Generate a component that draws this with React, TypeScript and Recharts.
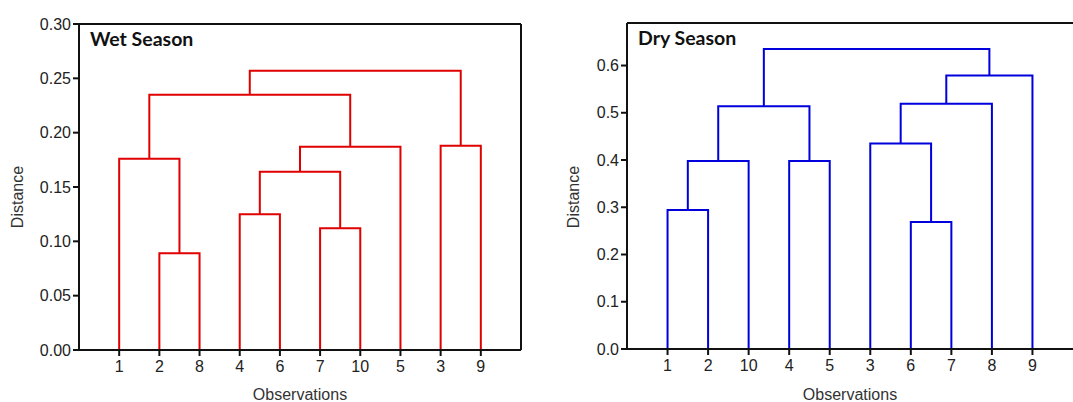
import { LineChart, Line, XAxis, YAxis, ReferenceLine } from "recharts";

// leaf order along the x axis
const wetLeaves = ["1", "2", "8", "4", "6", "7", "10", "5", "3", "9"];
const dryLeaves = ["1", "2", "10", "4", "5", "3", "6", "7", "8", "9"];

// merges in order; cluster i (1-based) is referred to as "c<i>"
const wetMerges = [
  { left: "2", right: "8", height: 0.089 },
  { left: "7", right: "10", height: 0.112 },
  { left: "4", right: "6", height: 0.125 },
  { left: "c3", right: "c2", height: 0.164 },
  { left: "1", right: "c1", height: 0.176 },
  { left: "c4", right: "5", height: 0.187 },
  { left: "3", right: "9", height: 0.188 },
  { left: "c5", right: "c6", height: 0.235 },
  { left: "c8", right: "c7", height: 0.257 },
];

const dryMerges = [
  { left: "1", right: "2", height: 0.294 },
  { left: "6", right: "7", height: 0.269 },
  { left: "c1", right: "10", height: 0.398 },
  { left: "4", right: "5", height: 0.398 },
  { left: "3", right: "c2", height: 0.435 },
  { left: "c3", right: "c4", height: 0.514 },
  { left: "c5", right: "8", height: 0.519 },
  { left: "c7", right: "9", height: 0.579 },
  { left: "c6", right: "c8", height: 0.635 },
];

const wetTicks = [0, 0.05, 0.1, 0.15, 0.2, 0.25, 0.3];
const dryTicks = [0, 0.1, 0.2, 0.3, 0.4, 0.5, 0.6];

interface Merge {
  left: string;
  right: string;
  height: number;
}

const buildLinks = (leaves: string[], merges: Merge[]) => {
  const pos: Record<string, { x: number; h: number }> = {};
  leaves.forEach((l, i) => (pos[l] = { x: i + 1, h: 0 }));
  return merges.map((m, i) => {
    const a = pos[m.left];
    const b = pos[m.right];
    pos[`c${i + 1}`] = { x: (a.x + b.x) / 2, h: m.height };
    return [
      { x: a.x, y: a.h },
      { x: a.x, y: m.height },
      { x: b.x, y: m.height },
      { x: b.x, y: b.h },
    ];
  });
};

const FONT = "'Liberation Sans', Arial, sans-serif";
const tickStyle = { fontSize: 16, fill: "#222", fontFamily: FONT };

interface DendroProps {
  title: string;
  leaves: string[];
  merges: Merge[];
  ticks: number[];
  yMax: number;
  digits: number;
  color: string;
  width: number;
  yAxisWidth: number;
  top: number;
  rightMargin: number;
  rightBorder: boolean;
  labelX: number;
}

const Dendrogram = ({
  title,
  leaves,
  merges,
  ticks,
  yMax,
  digits,
  color,
  width,
  yAxisWidth,
  top,
  rightMargin,
  rightBorder,
  labelX,
}: DendroProps) => {
  const links = buildLinks(leaves, merges);
  return (
    <div style={{ position: "relative", width, height: 402 }}>
      <LineChart
        width={width}
        height={402}
        margin={{ top, right: rightMargin, bottom: 0, left: 0 }}
      >
        <XAxis
          type="number"
          dataKey="x"
          domain={[0, 11]}
          ticks={leaves.map((_, i) => i + 1)}
          tickFormatter={(v: number) => leaves[v - 1]}
          allowDataOverflow
          height={402 - 350 + (top === 23 ? 1 : 0)}
          axisLine={{ stroke: "#111", strokeWidth: 2 }}
          tickLine={{ stroke: "#111", strokeWidth: 2 }}
          tickSize={6}
          tickMargin={5}
          tick={tickStyle}
          label={{
            value: "Observations",
            position: "insideBottom",
            offset: 2,
            style: { ...tickStyle, fill: "#333" },
          }}
        />
        <YAxis
          type="number"
          domain={[0, yMax]}
          ticks={ticks}
          allowDataOverflow
          width={yAxisWidth}
          tickFormatter={(v: number) => v.toFixed(digits)}
          axisLine={{ stroke: "#111", strokeWidth: 2 }}
          tickLine={{ stroke: "#111", strokeWidth: 2 }}
          tickSize={6}
          tick={tickStyle}
          label={{
            content: () => (
              <text
                x={labelX}
                y={197}
                transform={`rotate(-90, ${labelX}, 197)`}
                textAnchor="middle"
                dominantBaseline="central"
                style={{ ...tickStyle, fill: "#333" }}
              >
                Distance
              </text>
            ),
          }}
        />
        <ReferenceLine y={yMax} stroke="#111" strokeWidth={2} />
        {rightBorder && <ReferenceLine x={11} stroke="#111" strokeWidth={2} />}
        {links.map((pts, i) => (
          <Line
            key={`link-${i}`}
            data={pts}
            dataKey="y"
            type="linear"
            stroke={color}
            strokeWidth={2}
            dot={false}
            activeDot={false}
            isAnimationActive={false}
          />
        ))}
      </LineChart>
      <div
        style={{
          position: "absolute",
          left: yAxisWidth + 11,
          top: top + 3,
          fontFamily: "Lato, 'Open Sans', sans-serif",
          fontWeight: 700,
          fontSize: 19.5,
          color: "#111",
        }}
      >
        {title}
      </div>
    </div>
  );
};

export default function App() {
  return (
    <div
      style={{
        position: "absolute",
        left: 0,
        top: 0,
        width: 1073,
        height: 402,
        background: "#fff",
        display: "flex",
      }}
    >
      <Dendrogram
        title="Wet Season"
        leaves={wetLeaves}
        merges={wetMerges}
        ticks={wetTicks}
        yMax={0.3}
        digits={2}
        color="#e00000"
        width={540}
        yAxisWidth={79}
        top={24}
        rightMargin={19}
        rightBorder
        labelX={17}
      />
      <Dendrogram
        title="Dry Season"
        leaves={dryLeaves}
        merges={dryMerges}
        ticks={dryTicks}
        yMax={0.69}
        digits={1}
        color="#0000dd"
        width={533}
        yAxisWidth={87}
        top={23}
        rightMargin={0}
        rightBorder={false}
        labelX={33}
      />
    </div>
  );
}
